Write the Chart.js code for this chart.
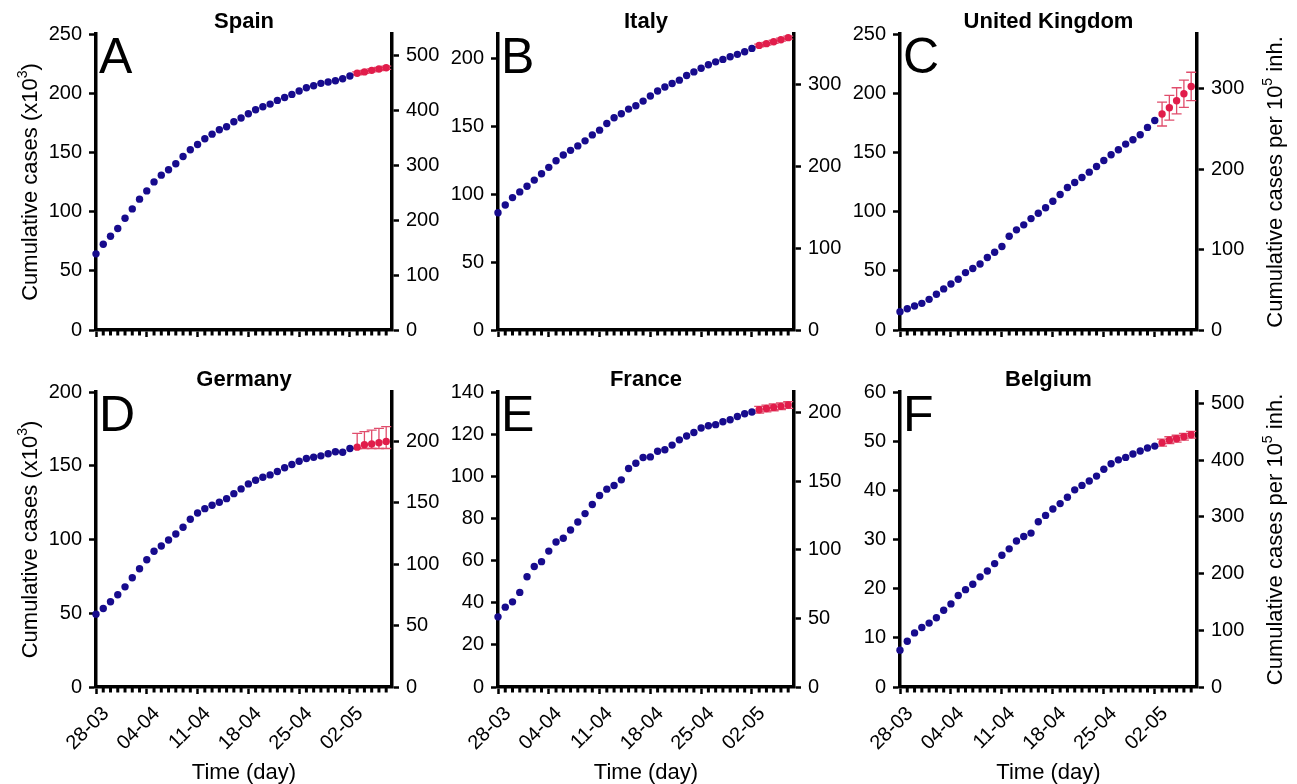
<!DOCTYPE html>
<html>
<head>
<meta charset="utf-8">
<script src="https://cdn.jsdelivr.net/npm/chart.js@4.4.1/dist/chart.umd.min.js"></script>
<style>
html, body { margin: 0; padding: 0; background: #fff; }
#wrap { position: relative; width: 1297px; height: 784px; overflow: hidden; }
#wrap canvas { position: absolute; }
</style>
</head>
<body>
<div id="wrap"></div>
<script>
// dates (day-month): observed days, then the 5 forecast days
const obsDates = ['28-03','29-03','30-03','31-03','01-04','02-04','03-04','04-04','05-04','06-04',
  '07-04','08-04','09-04','10-04','11-04','12-04','13-04','14-04','15-04','16-04','17-04','18-04',
  '19-04','20-04','21-04','22-04','23-04','24-04','25-04','26-04','27-04','28-04','29-04','30-04',
  '01-05','02-05'];
const fcDates = ['03-05','04-05','05-05','06-05','07-05'];
const tickDates = ['28-03','04-04','11-04','18-04','25-04','02-05'];
const allDates = obsDates.concat(fcDates);

// cumulative cases (x10^3), observed
const spainObs = [64.3,72.4,79.2,85.7,94.4,102.3,110.5,117.5,125.1,130.8,135.3,140.4,146.6,152.2,
  156.7,161.5,165.4,169.1,171.7,175.9,179.0,182.6,186.0,188.6,190.8,193.9,196.4,199.0,201.8,204.6,
  206.3,208.3,209.4,210.5,212.2,214.5];
const italyObs = [86.4,92.1,97.5,101.7,105.9,110.4,115.1,119.8,124.7,128.9,132.3,135.6,139.3,143.7,
  147.2,152.1,156.3,159.3,162.7,165.2,168.6,172.3,176.0,179.0,181.5,184.0,187.4,190.1,192.8,195.3,
  197.5,199.3,201.2,203.0,204.9,207.4];
const ukObs = [15.5,18.0,20.3,22.5,25.9,30.2,34.7,38.9,42.8,48.5,51.9,55.8,61.2,65.7,70.5,79.2,84.6,
  88.8,94.1,98.6,103.2,108.8,114.4,120.3,124.6,128.8,133.3,138.1,143.2,148.0,152.2,157.0,160.7,164.9,
  171.1,177.0];
const germanyObs = [49.4,53.2,57.8,62.5,67.9,74.1,80.2,86.3,92.0,95.6,99.7,103.7,108.3,113.7,118.0,
  120.9,123.2,125.3,127.7,131.1,134.3,137.7,140.2,142.2,143.8,146.1,148.6,150.8,153.1,154.9,155.8,
  156.7,158.1,159.5,159.2,161.7];
const franceObs = [33.3,37.9,40.4,44.9,52.3,57.2,59.5,64.5,68.8,70.6,74.5,78.3,82.3,86.6,90.9,93.9,
  95.6,98.3,103.7,106.2,108.9,109.2,111.9,112.6,114.8,117.3,119.1,120.8,122.9,124.0,124.5,125.9,
  126.8,128.4,129.7,130.5];
const belgiumObs = [7.5,9.3,11.0,12.1,13.0,14.1,15.6,16.9,18.6,19.8,20.9,22.4,23.6,25.1,26.8,28.1,
  29.7,30.6,31.3,33.6,34.9,36.2,37.3,38.6,40.1,41.0,41.9,42.9,44.3,45.4,46.2,46.7,47.4,48.0,48.6,49.0];

// forecast (x10^3) with lower / upper bounds
const spainFc = [216.8,218.0,219.3,220.4,221.5];
const spainLo = [215.6,216.8,218.0,219.1,220.2];
const spainHi = [218.0,219.2,220.6,221.7,222.8];
const italyFc = [209.6,210.9,212.3,213.8,215.3];
const italyLo = [208.6,209.9,211.2,212.7,214.2];
const italyHi = [210.6,211.9,213.4,214.9,216.4];
const ukFc = [182.4,187.7,193.6,199.5,205.7];
const ukLo = [172.3,177.2,182.6,188.0,193.7];
const ukHi = [192.5,198.2,204.6,211.0,217.7];
const germanyFc = [162.6,164.2,164.7,165.6,166.5];
const germanyLo = [161.7,161.7,161.7,161.7,161.7];
const germanyHi = [172.0,173.1,174.2,175.4,176.5];
const franceFc = [131.6,132.2,132.7,133.2,133.8];
const franceLo = [130.0,130.6,131.1,131.6,132.2];
const franceHi = [133.2,133.8,134.3,134.8,135.4];
const belgiumFc = [49.7,50.2,50.5,50.9,51.3];
const belgiumLo = [49.0,49.5,49.8,50.2,50.6];
const belgiumHi = [50.4,50.9,51.2,51.6,52.0];

// axis ranges: left (x10^3) and right (per 10^5 inh.)
const leftMax = [250, 218, 250, 200, 140, 60];
const leftStep = [50, 50, 50, 50, 20, 10];
const rightMax = [539, 361, 368, 240, 215, 520];
const rightStep = [100, 100, 100, 50, 50, 100];

const names = ['Spain', 'Italy', 'United Kingdom', 'Germany', 'France', 'Belgium'];
const letters = ['A', 'B', 'C', 'D', 'E', 'F'];
const obsList = [spainObs, italyObs, ukObs, germanyObs, franceObs, belgiumObs];
const fcList = [spainFc, italyFc, ukFc, germanyFc, franceFc, belgiumFc];
const loList = [spainLo, italyLo, ukLo, germanyLo, franceLo, belgiumLo];
const hiList = [spainHi, italyHi, ukHi, germanyHi, franceHi, belgiumHi];

const BLUE = '#170b8d';
const RED = '#e11d4b';
const ERR = '#e04d6c';
const FONT = '"Liberation Sans", Arial, Helvetica, sans-serif';
Chart.defaults.font.family = FONT;
Chart.defaults.color = '#000';

// plot-area boxes in page pixels
const colX = [[96, 392], [498, 794], [900, 1197]];
const rowY = [[34, 330], [392, 687]];

const wrap = document.getElementById('wrap');

// draws text with a superscript piece, centred on 0
function supText(ctx, before, sup, after, size) {
    ctx.font = size + 'px ' + FONT;
    const w1 = ctx.measureText(before).width;
    const w3 = ctx.measureText(after).width;
    ctx.font = Math.round(size * 0.65) + 'px ' + FONT;
    const w2 = ctx.measureText(sup).width;
    let x = -(w1 + w2 + w3) / 2;
    ctx.textAlign = 'left';
    ctx.textBaseline = 'alphabetic';
    ctx.font = size + 'px ' + FONT;
    ctx.fillText(before, x, 0);
    x += w1;
    ctx.font = Math.round(size * 0.65) + 'px ' + FONT;
    ctx.fillText(sup, x, -size * 0.45);
    x += w2;
    ctx.font = size + 'px ' + FONT;
    ctx.fillText(after, x, 0);
}

const decor = {
    id: 'decor',
    beforeDatasetsDraw(chart) {
        const p = chart.options.plugins.decor;
        const ctx = chart.ctx;
        const xs = chart.scales.x, ys = chart.scales.y;
        const a = chart.chartArea;
        ctx.save();
        // minor day ticks
        ctx.strokeStyle = '#000';
        ctx.lineWidth = 3;
        allDates.forEach((d, i) => {
            if (tickDates.includes(d)) return;
            const x = xs.getPixelForValue(i);
            ctx.beginPath();
            ctx.moveTo(x, a.bottom);
            ctx.lineTo(x, a.bottom + 5.5);
            ctx.stroke();
        });
        // error bars of the forecast
        ctx.strokeStyle = ERR;
        ctx.lineWidth = 1.3;
        p.fc.forEach((v, i) => {
            const x = xs.getPixelForValue(p.nObs + i);
            const yl = ys.getPixelForValue(p.lo[i]);
            const yh = ys.getPixelForValue(p.hi[i]);
            ctx.beginPath();
            ctx.moveTo(x, yl); ctx.lineTo(x, yh);
            ctx.moveTo(x - 5, yl); ctx.lineTo(x + 5, yl);
            ctx.moveTo(x - 5, yh); ctx.lineTo(x + 5, yh);
            ctx.stroke();
        });
        ctx.restore();
    },
    afterDraw(chart) {
        const p = chart.options.plugins.decor;
        const ctx = chart.ctx;
        const a = chart.chartArea;
        const cx = (a.left + a.right) / 2;
        const cy = (a.top + a.bottom) / 2;
        ctx.save();
        ctx.fillStyle = '#000';
        ctx.textAlign = 'center';
        ctx.textBaseline = 'alphabetic';
        ctx.font = 'bold 22px ' + FONT;
        ctx.fillText(p.name, cx, a.top - 6);
        ctx.textAlign = 'left';
        ctx.font = '50px ' + FONT;
        ctx.fillText(p.letter, a.left + 3, a.top + 39);
        if (p.row === 1) {
            ctx.textAlign = 'center';
            ctx.font = '22px ' + FONT;
            ctx.fillText('Time (day)', cx, a.bottom + 92);
        }
        if (p.col === 0) {
            ctx.save();
            ctx.translate(a.left - 59, cy);
            ctx.rotate(-Math.PI / 2);
            supText(ctx, 'Cumulative cases (x10', '3', ')', 22);
            ctx.restore();
        }
        if (p.col === 2) {
            ctx.save();
            ctx.translate(a.right + 85, cy);
            ctx.rotate(-Math.PI / 2);
            supText(ctx, 'Cumulative cases per 10', '5', ' inh.', 22);
            ctx.restore();
        }
        ctx.restore();
    }
};

function makePanel(k) {
    const col = k % 3, row = Math.floor(k / 3);
    const [L, R] = colX[col];
    const [T, B] = rowY[row];
    const padL = 100, padR = 100, padT = 40;
    const xh = row === 0 ? 20 : 100;
    const cv = document.createElement('canvas');
    cv.width = (R - L) + padL + padR;
    cv.height = (B - T) + padT + xh;
    cv.style.left = (L - padL) + 'px';
    cv.style.top = (T - padT) + 'px';
    wrap.appendChild(cv);

    const obs = obsList[k], fc = fcList[k];
    const axisBorder = { display: true, color: '#000', width: 3.5 };
    const tickGrid = { drawOnChartArea: false, drawTicks: true, tickLength: 7, tickWidth: 2.5, tickColor: '#000' };

    new Chart(cv, {
        type: 'scatter',
        data: {
            datasets: [
                { data: obs.map((v, i) => ({ x: i, y: v })), backgroundColor: BLUE, borderColor: BLUE,
                  pointRadius: 3.7, pointBorderWidth: 0, clip: false },
                { data: fc.map((v, i) => ({ x: obs.length + i, y: v })), backgroundColor: RED, borderColor: RED,
                  pointRadius: 3.7, pointBorderWidth: 0, clip: false }
            ]
        },
        options: {
            responsive: false,
            animation: false,
            events: [],
            layout: { padding: { left: 0, right: 0, top: padT, bottom: 0 } },
            plugins: {
                legend: { display: false },
                tooltip: { enabled: false },
                decor: { name: names[k], letter: letters[k], row, col, nObs: obs.length,
                         fc, lo: loList[k], hi: hiList[k] }
            },
            scales: {
                x: {
                    type: 'linear', position: 'bottom', min: 0, max: 40.8,
                    afterFit: s => { s.height = xh; },
                    border: axisBorder,
                    grid: tickGrid,
                    ticks: {
                        display: row === 1,
                        stepSize: 7, includeBounds: false, autoSkip: false,
                        minRotation: 45, maxRotation: 45, padding: 8, labelOffset: 10,
                        font: { size: 20 },
                        callback: v => allDates[v] || ''
                    }
                },
                y: {
                    type: 'linear', position: 'left', min: 0, max: leftMax[k],
                    afterFit: s => { s.width = padL; },
                    border: axisBorder,
                    grid: tickGrid,
                    ticks: { stepSize: leftStep[k], includeBounds: false, padding: 7, font: { size: 20 } }
                },
                y2: {
                    type: 'linear', position: 'right', min: 0, max: rightMax[k],
                    afterFit: s => { s.width = padR; },
                    border: axisBorder,
                    grid: tickGrid,
                    ticks: { stepSize: rightStep[k], includeBounds: false, padding: 7, font: { size: 20 } }
                }
            }
        },
        plugins: [decor]
    });
}

for (let k = 0; k < 6; k++) makePanel(k);
</script>
</body>
</html>
